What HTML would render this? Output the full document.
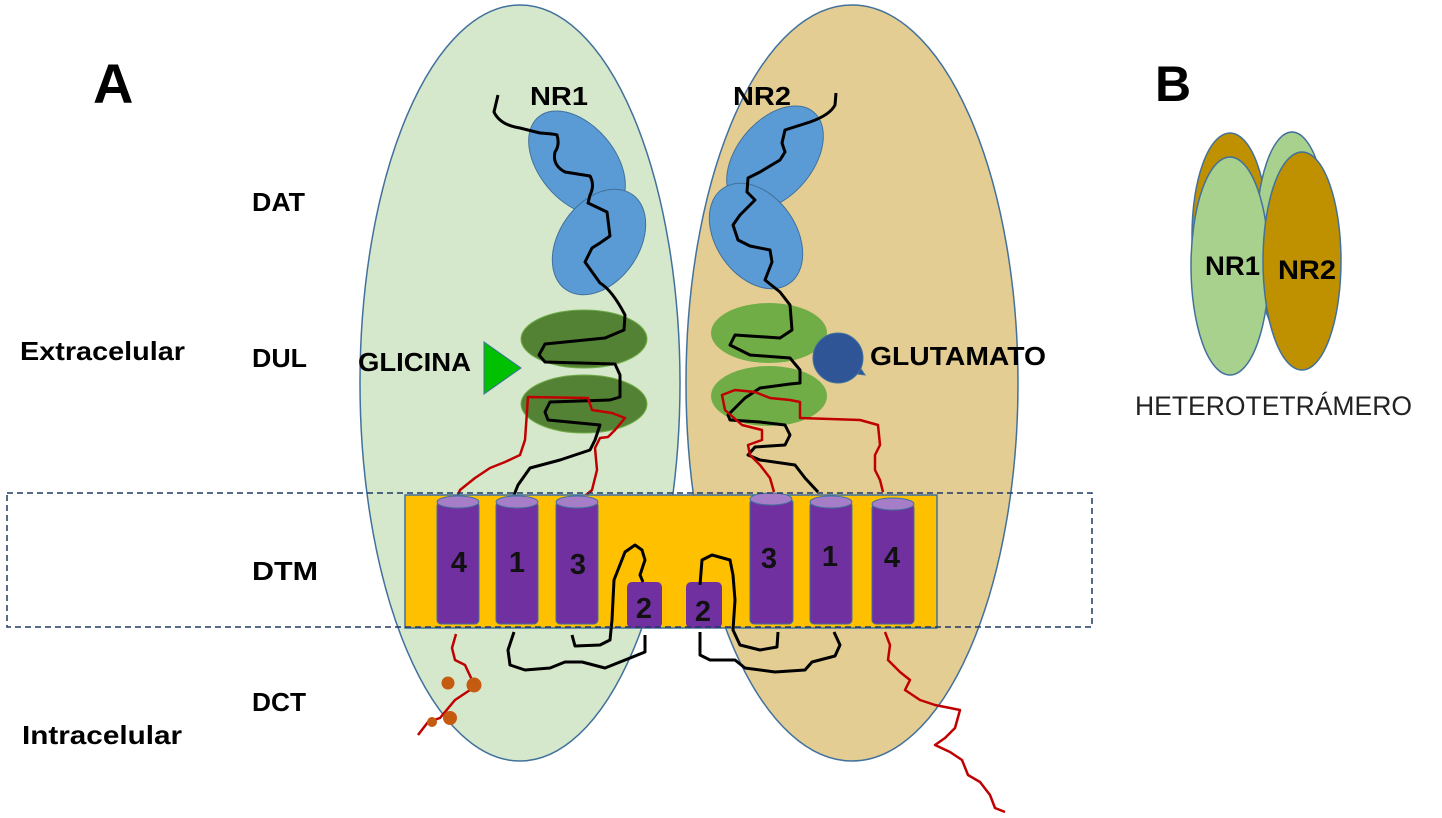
<!DOCTYPE html>
<html><head><meta charset="utf-8"><style>html,body{margin:0;padding:0;background:#fff}svg{display:block}</style></head>
<body>
<svg width="1442" height="818" viewBox="0 0 1442 818" xmlns="http://www.w3.org/2000/svg" font-family="Liberation Sans, sans-serif">
<rect width="1442" height="818" fill="#fff"/>
<ellipse cx="520" cy="383" rx="160" ry="378" fill="#d6e8cc" stroke="#41719c" stroke-width="1.5"/>
<ellipse cx="852" cy="383" rx="166" ry="378" fill="#e3cd93" stroke="#41719c" stroke-width="1.5"/>
<ellipse cx="577" cy="163" rx="38" ry="60" transform="rotate(-40 577 163)" fill="#5b9bd5" stroke="#41719c"/>
<ellipse cx="599" cy="242" rx="40" ry="58" transform="rotate(35 599 242)" fill="#5b9bd5" stroke="#41719c"/>
<ellipse cx="775" cy="158" rx="38" ry="60" transform="rotate(40 775 158)" fill="#5b9bd5" stroke="#41719c"/>
<ellipse cx="756" cy="236" rx="40" ry="58" transform="rotate(-35 756 236)" fill="#5b9bd5" stroke="#41719c"/>
<ellipse cx="584" cy="339" rx="63" ry="29" fill="#548235" stroke="#70ad47" stroke-width="1"/>
<ellipse cx="584" cy="404" rx="63" ry="29" fill="#548235" stroke="#70ad47" stroke-width="1"/>
<ellipse cx="769" cy="333" rx="58" ry="30" fill="#70ad47"/>
<ellipse cx="769" cy="396" rx="58" ry="30" fill="#70ad47"/>
<polygon points="484,342 484,394 521,368" fill="#00c000" stroke="#41719c"/>
<polygon points="845,345 865,375 842,372" fill="#2f5597" stroke="#41719c"/>
<circle cx="838" cy="358" r="25" fill="#2f5597" stroke="#41719c"/>
<g fill="none" stroke="#000" stroke-width="3" stroke-linejoin="round">
<path d="M498,95 L494,112 Q500,125 520,128 L540,133 Q555,134 557,135 Q560,145 555,152 Q552,165 565,172 L590,176 Q595,185 590,195 L588,203 L607,212 L610,236 L600,243 L592,248 L585,262 L600,283 Q612,290 625,315 L624,330 L605,338 L545,344 L539,355 L545,362 L615,364 L620,375 L620,397 L610,400 L550,402 L545,412 L548,420 L600,425 L595,440 L590,450 L560,460 L530,468 L518,485 L512,500"/>
<path d="M836,93 L835,105 Q830,115 810,122 L785,130 L782,143 L785,152 L780,160 L760,172 L748,178 L747,192 L755,200 L740,215 L733,225 L738,240 L750,246 L770,250 L772,262 L765,280 L780,292 L790,305 L792,330 L780,338 L735,335 L730,345 L750,355 L790,358 L800,370 L800,383 L790,384 L760,388 L745,398 L728,415 L730,420 L760,422 L785,425 L790,435 L785,445 L755,447 L748,455 L760,460 L795,465 L805,478 L818,492"/>
</g>
<g fill="none" stroke="#c00000" stroke-width="2.5" stroke-linejoin="round">
<path d="M455,502 L460,490 L475,478 L490,468 L505,462 L520,455 L525,440 L528,397 L588,398 L592,410 L612,413 L625,418 L615,430 L608,437 L600,438 L595,448 L597,470 L592,490 L578,502"/>
<path d="M774,492 L770,478 L760,465 L750,455 L748,445 L762,440 L762,430 L742,425 L725,410 L722,395 L735,390 L755,392 L770,398 L790,400 L800,402 L800,418 L860,420 L878,425 L880,445 L875,455 L875,470 L880,480 L883,492"/>
</g>
<rect x="405" y="495" width="532" height="133" fill="#ffc000" stroke="#41719c" stroke-width="1.5"/>
<g fill="#7030a0" stroke="#41719c" stroke-width="1">
<rect x="437" y="502" width="42" height="122" rx="4"/><ellipse cx="458" cy="502" rx="21" ry="6" fill="#a67ec8"/>
<rect x="496" y="502" width="42" height="122" rx="4"/><ellipse cx="517" cy="502" rx="21" ry="6" fill="#a67ec8"/>
<rect x="556" y="502" width="42" height="122" rx="4"/><ellipse cx="577" cy="502" rx="21" ry="6" fill="#a67ec8"/>
<rect x="750" y="499" width="43" height="125" rx="4"/><ellipse cx="771" cy="499" rx="21" ry="6" fill="#a67ec8"/>
<rect x="810" y="502" width="42" height="122" rx="4"/><ellipse cx="831" cy="502" rx="21" ry="6" fill="#a67ec8"/>
<rect x="872" y="504" width="42" height="120" rx="4"/><ellipse cx="893" cy="504" rx="21" ry="6" fill="#a67ec8"/>
<rect x="627" y="582" width="35" height="46" rx="5" stroke="none"/>
<rect x="686" y="582" width="36" height="46" rx="5" stroke="none"/>
</g>
<g font-weight="bold" font-size="29" fill="#111" text-anchor="middle">
<text x="459" y="572">4</text><text x="517" y="572">1</text><text x="578" y="574">3</text>
<text x="769" y="568">3</text><text x="830" y="566">1</text><text x="892" y="567">4</text>
<text x="644" y="618">2</text><text x="703" y="621">2</text>
</g>
<g fill="none" stroke="#000" stroke-width="3" stroke-linejoin="round">
<path d="M643,582 L640,575 L645,560 L642,550 L635,545 L625,552 L614,580 L612,620 L610,640 L600,645 L575,646 L572,635"/>
<path d="M700,585 L702,560 L712,555 L730,560 L733,575 L735,600 L733,630 L740,645 L760,650 L777,647 L778,632"/>
<path d="M514,632 L508,650 L510,665 L525,670 L550,668 L565,662 L582,662 L605,668 L625,660 L645,652 L645,635"/>
<path d="M700,632 L700,655 L710,660 L735,660 L745,668 L775,672 L805,670 L812,662 L835,656 L840,645 L834,632"/>
</g>
<g fill="none" stroke="#c00000" stroke-width="2.5" stroke-linejoin="round">
<path d="M456,634 L452,648 L455,660 L465,665 L472,680 L470,690 L455,700 L440,718 L428,722 L418,735"/>
<path d="M885,632 L890,645 L888,660 L900,672 L910,680 L905,690 L920,700 L935,705 L960,710 L955,728 L945,738 L935,745 L950,752 L962,760 L968,775 L980,782 L990,795 L995,808 L1005,812"/>
</g>
<g fill="#c55a11">
<circle cx="448" cy="683" r="6.5"/><circle cx="474" cy="685" r="7.5"/><circle cx="450" cy="718" r="7"/><circle cx="432" cy="722" r="5"/>
</g>
<rect x="7" y="493" width="1085" height="134" fill="none" stroke="#1f3864" stroke-width="1.5" stroke-dasharray="6,4"/>
<g font-weight="bold" fill="#000">
<text x="93" y="103" font-size="56">A</text>
<text x="1155" y="101" font-size="50">B</text>
<g font-size="26">
<text x="252" y="211" textLength="53" lengthAdjust="spacingAndGlyphs">DAT</text>
<text x="252" y="367" textLength="55" lengthAdjust="spacingAndGlyphs">DUL</text>
<text x="252" y="580" textLength="66" lengthAdjust="spacingAndGlyphs">DTM</text>
<text x="252" y="711" textLength="54" lengthAdjust="spacingAndGlyphs">DCT</text>
<text x="20" y="360" textLength="165" lengthAdjust="spacingAndGlyphs">Extracelular</text>
<text x="22" y="744" textLength="160" lengthAdjust="spacingAndGlyphs">Intracelular</text>
<text x="530" y="105" textLength="58" lengthAdjust="spacingAndGlyphs">NR1</text>
<text x="733" y="105" textLength="58" lengthAdjust="spacingAndGlyphs">NR2</text>
<text x="358" y="371" textLength="113" lengthAdjust="spacingAndGlyphs">GLICINA</text>
<text x="870" y="365" textLength="176" lengthAdjust="spacingAndGlyphs">GLUTAMATO</text>
</g>
</g>
<ellipse cx="1230" cy="235" rx="38" ry="102" fill="#bf9000" stroke="#41719c" stroke-width="1.5"/>
<ellipse cx="1292" cy="238" rx="36" ry="106" fill="#a9d18e" stroke="#41719c" stroke-width="1.5"/>
<ellipse cx="1230" cy="266" rx="39" ry="109" fill="#a9d18e" stroke="#41719c" stroke-width="1.5"/>
<ellipse cx="1302" cy="261" rx="39" ry="109" fill="#bf9000" stroke="#41719c" stroke-width="1.5"/>
<text x="1205" y="275" font-size="27" font-weight="bold" textLength="55" lengthAdjust="spacingAndGlyphs">NR1</text>
<text x="1278" y="279" font-size="27" font-weight="bold" textLength="58" lengthAdjust="spacingAndGlyphs">NR2</text>
<text x="1135" y="415" font-size="27" fill="#222" textLength="277" lengthAdjust="spacingAndGlyphs">HETEROTETRÁMERO</text>
</svg>
</body></html>
